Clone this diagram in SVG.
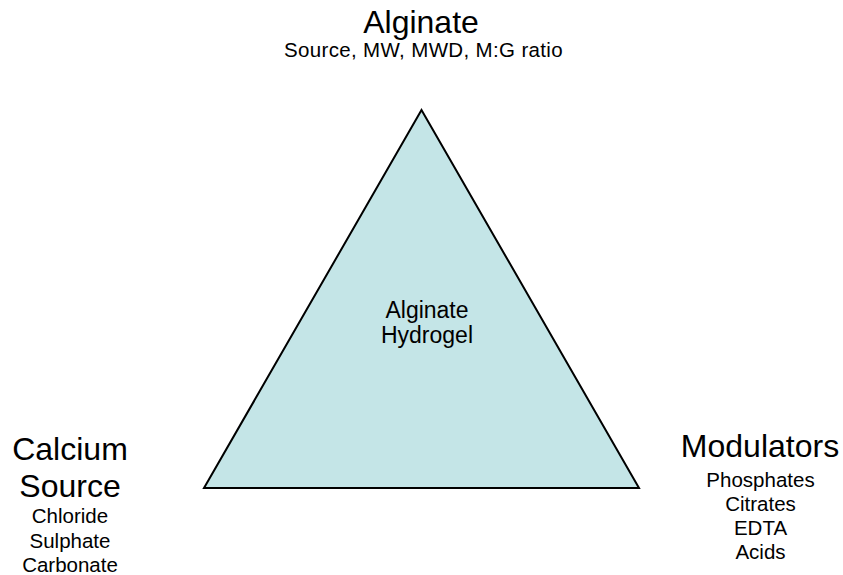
<svg xmlns="http://www.w3.org/2000/svg" width="843" height="575" viewBox="0 0 843 575">
  <style>
    text { font-family: "Liberation Sans", Arial, sans-serif; fill: #000; text-anchor: middle; }
    .title { font-size: 32px; }
    .sub { font-size: 20.5px; }
    .subtop { font-size: 20.5px; letter-spacing: 0.35px; }
    .center { font-size: 23px; }
    .tri { fill: #c4e5e7; stroke: #000; stroke-width: 2; stroke-linejoin: miter; }
  </style>
  <rect width="843" height="575" fill="#ffffff"/>
  <g id="node-hydrogel">
    <polygon class="tri" points="421.5,110 204,488 639,488"/>
    <text class="center" x="427" y="318">Alginate</text>
    <text class="center" x="427" y="343">Hydrogel</text>
  </g>
  <g id="node-alginate">
    <text class="title" x="421" y="33">Alginate</text>
    <text class="subtop" x="423.5" y="57">Source, MW, MWD, M:G ratio</text>
  </g>
  <g id="node-calcium">
    <text class="title" x="70" y="460">Calcium</text>
    <text class="title" x="70" y="497">Source</text>
    <text class="sub" x="70" y="523">Chloride</text>
    <text class="sub" x="70" y="547.5">Sulphate</text>
    <text class="sub" x="70" y="572">Carbonate</text>
  </g>
  <g id="node-modulators">
    <text class="title" x="760" y="457">Modulators</text>
    <text class="sub" x="760.5" y="487">Phosphates</text>
    <text class="sub" x="760.5" y="511">Citrates</text>
    <text class="sub" x="760.5" y="535">EDTA</text>
    <text class="sub" x="760.5" y="558.5">Acids</text>
  </g>
</svg>
